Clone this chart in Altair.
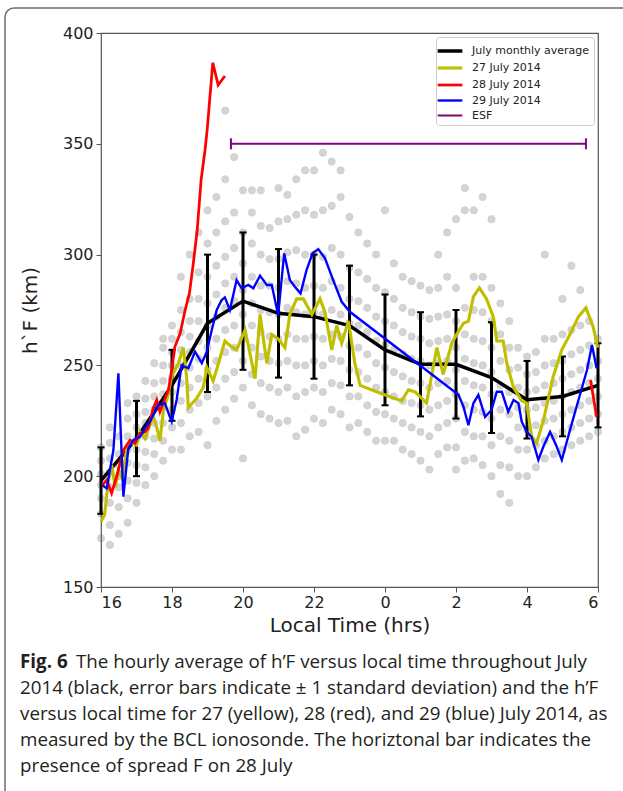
import altair as alt
import pandas as pd

# ---------------- data ----------------
hours = [16, 17, 18, 19, 20, 21, 22, 23, 24, 25, 26, 27, 28, 29, 30]
avg_hF = [198, 217, 241, 269, 279, 273.5, 272, 268, 257, 250.5, 250.5, 244.5, 234.5, 236, 241]
avg_sd = [15, 17, 16, 31, 31, 29, 28, 27, 25, 23.5, 24.5, 25, 17.5, 18, 19]

jul27_t = [16.0, 16.1, 16.2, 16.3, 16.4, 16.5, 16.6, 16.72, 16.85, 17.0,
           17.1, 17.24, 17.35, 17.47, 17.57, 17.66, 17.76, 17.88, 17.99, 18.18,
           18.32, 18.41, 18.46, 18.69, 18.88, 18.98, 19.16, 19.31, 19.49, 19.63,
           19.82, 20.06, 20.34, 20.48, 20.67, 20.81, 20.99, 21.18, 21.32, 21.51,
           21.70, 21.94, 22.17, 22.31, 22.50, 22.64, 22.78, 22.97, 23.15, 23.30,
           23.95, 24.47, 24.66, 24.85, 25.17, 25.46, 25.64, 25.88, 26.02, 26.21,
           26.35, 26.49, 26.66, 26.86, 27.05, 27.15, 27.33, 27.43, 27.62, 27.85,
           27.99, 28.13, 28.27, 28.46, 28.74, 28.98, 29.21, 29.45, 29.66, 29.87,
           29.99]
jul27_v = [179.5, 182.5, 197, 205, 195, 203, 199, 212, 215, 214,
           220, 217, 222, 227, 222, 216, 230, 236, 245, 251,
           258, 245, 231, 235, 240, 249, 243, 251, 261, 259,
           257, 266, 244, 273, 251, 264, 262, 258, 273, 280,
           280, 273, 280, 274, 257, 268, 260, 270, 251, 241,
           237, 234, 239, 238, 233, 258, 246, 260, 264, 269,
           270, 281, 285, 280, 272, 261, 261, 251, 240, 234,
           233, 218, 215, 225, 245, 257, 264, 272, 276, 267,
           258]

jul28_t = [16.04, 16.16, 16.30, 16.44, 16.63, 16.82, 16.96, 17.10, 17.24, 17.33,
           17.47, 17.57, 17.66, 17.80, 17.90, 17.99, 18.08, 18.23, 18.37, 18.49,
           18.60, 18.71, 18.82, 18.93, 18.99, 19.15, 19.30, 19.49]
jul28_v = [196, 198.3, 192.3, 199.8, 211.8, 216.3, 214.9, 219.4, 220, 221.6,
           230.6, 234.4, 229.1, 235, 238.9, 247.9, 258.4, 264.5, 275, 282.5,
           296, 311, 333.7, 347.2, 356.2, 386.6, 376.5, 380.6]
jul28_late_t = [29.79, 29.96]
jul28_late_v = [243.4, 226.8]

jul29_t = [16.04, 16.16, 16.35, 16.49, 16.63, 16.77, 16.91, 17.10, 17.24, 17.38,
           17.52, 17.61, 17.80, 17.99, 18.13, 18.27, 18.46, 18.65, 18.84, 18.98,
           19.12, 19.26, 19.40, 19.49, 19.63, 19.82, 19.96, 20.15, 20.29, 20.48,
           20.67, 20.81, 20.99, 21.16, 21.32, 21.46, 21.62, 21.79, 21.96, 22.12,
           22.31, 22.54, 22.78, 23.01, 26.07, 26.21, 26.35, 26.49, 26.63, 26.82,
           27.00, 27.15, 27.29, 27.47, 27.62, 27.76, 27.85, 27.99, 28.13, 28.32,
           28.46, 28.65, 28.82, 28.98, 29.21, 29.45, 29.69, 29.83, 29.96]
jul29_v = [196, 194.5, 211.8, 246.4, 190.8, 212.6, 216.3, 217.8, 221.6, 224.6,
           229.1, 232.1, 232.9, 224.6, 234.4, 250, 248.7, 256.2, 251, 256.2,
           266, 275, 279.5, 280.7, 275, 288.5, 284.8, 286.3, 284.8, 290.5,
           286.3, 286.3, 272.7, 300.6, 288.5, 285.5, 282.5, 293, 300.6, 302.5,
           298.3, 288.5, 278.7, 274.2, 236.7, 231.4, 223, 232.9, 236.7, 226.8,
           229.9, 238.1, 238.1, 229.1, 234.4, 232.9, 224.6, 220, 217.8, 207.3,
           213.3, 220, 214, 207.3, 220.8, 234.4, 247.9, 259.2, 248.7]

esf_start, esf_end, esf_level = 19.66, 29.66, 350

scatter_times = [16.00, 16.25, 16.50, 16.75, 17.00, 17.25, 17.50, 17.75, 18.00, 18.25,
                 18.50, 18.75, 19.00, 19.25, 19.50, 19.75, 20.00, 20.25, 20.50, 20.75,
                 21.00, 21.25, 21.50, 21.75, 22.00, 22.25, 22.50, 22.75, 23.00, 23.25,
                 23.50, 23.75, 24.00, 24.25, 24.50, 24.75, 25.00, 25.25, 25.50, 25.75,
                 26.00, 26.25, 26.50, 26.75, 27.00, 27.25, 27.50, 27.75, 28.00, 28.25,
                 28.50, 28.75, 29.00, 29.25, 29.50, 29.75, 30.00]
scatter_values = [
    [172, 183, 190, 196, 201, 207, 213],
    [169, 178, 188, 195, 202, 208, 215, 222],
    [174, 186, 195, 200, 205, 210, 218],
    [179, 190, 198, 206, 212, 218, 226, 233],
    [188, 197, 205, 212, 217, 222, 228, 236],
    [196, 204, 211, 218, 224, 229, 235, 243],
    [200, 210, 217, 224, 230, 236, 242, 251],
    [207, 216, 224, 231, 237, 243, 250, 258, 262],
    [212, 222, 230, 238, 244, 250, 256, 262, 268],
    [212, 224, 234, 242, 250, 257, 265, 275, 290],
    [218, 230, 240, 249, 256, 263, 270, 280, 300],
    [220, 233, 244, 253, 261, 270, 280, 292, 310],
    [214, 236, 248, 258, 268, 278, 290, 305, 320],
    [225, 240, 252, 262, 272, 282, 295, 310, 326],
    [230, 244, 256, 266, 276, 287, 299, 315, 334, 365],
    [235, 247, 258, 268, 279, 290, 303, 319, 344],
    [208, 240, 252, 262, 273, 284, 296, 310, 329],
    [232, 246, 258, 268, 278, 290, 305, 319, 329],
    [228, 242, 254, 265, 275, 286, 300, 313, 329],
    [226, 240, 252, 263, 274, 286, 298, 312],
    [224, 238, 251, 262, 273, 285, 298, 315, 330],
    [225, 240, 252, 264, 276, 288, 301, 316, 327],
    [218, 236, 250, 262, 274, 287, 302, 318, 334],
    [221, 238, 250, 262, 273, 285, 300, 320, 338],
    [226, 240, 252, 263, 274, 286, 300, 318, 338],
    [224, 238, 250, 262, 273, 285, 299, 320, 346],
    [230, 242, 253, 264, 275, 288, 303, 322, 342],
    [228, 241, 252, 263, 273, 285, 300, 326, 338],
    [222, 236, 248, 259, 269, 280, 294, 317],
    [224, 236, 247, 258, 268, 279, 292, 310],
    [220, 232, 244, 255, 265, 276, 289, 305],
    [216, 229, 240, 251, 261, 272, 285, 300],
    [216, 228, 238, 249, 259, 270, 283, 320],
    [216, 226, 236, 247, 257, 268, 280, 296],
    [212, 224, 234, 245, 255, 265, 276, 290],
    [210, 222, 233, 243, 253, 263, 274, 288],
    [207, 220, 232, 242, 252, 262, 272, 286],
    [203, 218, 230, 240, 250, 260, 271, 284],
    [210, 222, 232, 242, 251, 261, 272, 285, 300],
    [213, 224, 234, 243, 252, 262, 273, 290, 310],
    [203, 213, 226, 237, 248, 258, 270, 285, 316],
    [207, 220, 232, 243, 253, 264, 276, 320, 330],
    [208, 218, 230, 241, 251, 262, 275, 290, 320],
    [205, 218, 229, 240, 250, 261, 274, 290, 326],
    [200, 214, 226, 237, 247, 258, 270, 285, 316],
    [192, 205, 218, 230, 241, 252, 264, 278],
    [188, 204, 216, 228, 238, 248, 258, 270],
    [200, 212, 222, 231, 240, 249, 258],
    [200, 212, 221, 230, 238, 246, 254],
    [204, 214, 223, 231, 239, 247, 256],
    [208, 216, 225, 233, 241, 250, 262, 300],
    [210, 218, 226, 234, 242, 251, 262],
    [212, 220, 228, 236, 244, 252, 264, 280],
    [214, 222, 230, 238, 246, 255, 266, 295],
    [216, 224, 232, 240, 248, 257, 268, 284],
    [218, 226, 234, 242, 250, 259, 270],
    [220, 228, 236, 244, 252, 262],
]

series_names = ["July monthly average", "27 July 2014", "28 July 2014", "29 July 2014", "ESF"]
series_colors = ["#000000", "#bfbf00", "#ff0000", "#0000ff", "#800080"]
series_widths = [3.5, 2, 3, 2, 2]

x_ticks = [16, 18, 20, 22, 24, 26, 28, 30]
y_ticks = [150, 200, 250, 300, 350, 400]

caption_bold = "Fig. 6"
caption_lines = [
    "The hourly average of h\u2019F versus local time throughout July",
    "2014 (black, error bars indicate \u00b1 1 standard deviation) and the h\u2019F",
    "versus local time for 27 (yellow), 28 (red), and 29 (blue) July 2014, as",
    "measured by the BCL ionosonde. The horiztonal bar indicates the",
    "presence of spread F on 28 July",
]

# ---------------- tables ----------------
assert len(jul27_t) == len(jul27_v)
assert len(jul28_t) == len(jul28_v)
assert len(jul29_t) == len(jul29_v)
assert len(scatter_times) == len(scatter_values)

def series_df(ts, vs, name, seg=0):
    return pd.DataFrame({"t": ts, "v": vs, "series": name, "seg": seg})

avg_df = series_df(hours, avg_hF, series_names[0])
y27_df = series_df(jul27_t, jul27_v, series_names[1])
r28_df = pd.concat([series_df(jul28_t, jul28_v, series_names[2], 0),
                    series_df(jul28_late_t, jul28_late_v, series_names[2], 1)])
b29_df = series_df(jul29_t, jul29_v, series_names[3])
err_df = pd.DataFrame({"t": hours,
                       "lo": [m - s for m, s in zip(avg_hF, avg_sd)],
                       "hi": [m + s for m, s in zip(avg_hF, avg_sd)]})
cap_df = pd.concat([pd.DataFrame({"t": err_df.t, "v": err_df.lo}),
                    pd.DataFrame({"t": err_df.t, "v": err_df.hi})])
scat_df = pd.DataFrame([{"t": t, "v": v} for t, vals in zip(scatter_times, scatter_values) for v in vals])
esf_df = pd.DataFrame({"t": [esf_start], "t2": [esf_end], "v": [esf_level], "series": [series_names[4]]})
esf_cap_df = pd.DataFrame({"t": [esf_start, esf_end], "v": [esf_level, esf_level]})

# ---------------- encodings ----------------
FONT = "DejaVu Sans"
xs = alt.Scale(domain=[16, 30], nice=False, zero=False)
ys = alt.Scale(domain=[150, 400], nice=False, zero=False)
xaxis = alt.Axis(values=x_ticks, labelExpr="datum.value >= 24 ? datum.value - 24 : datum.value",
                 title="Local Time (hrs)", grid=False, domain=False, tickSize=5,
                 tickColor="#555555", labelFont=FONT, labelFontSize=16, labelColor="#222222",
                 labelPadding=2, titleFont=FONT, titleFontSize=20, titleFontWeight="normal",
                 titleColor="#222222", titlePadding=5)
yaxis = alt.Axis(values=y_ticks, title="h`F (km)", grid=False, domain=False, tickSize=5,
                 tickColor="#555555", labelFont=FONT, labelFontSize=16, labelColor="#222222",
                 labelPadding=3, titleFont=FONT, titleFontSize=20, titleFontWeight="normal",
                 titleColor="#222222", titlePadding=22)
X = alt.X("t:Q", scale=xs, axis=xaxis)
Y = alt.Y("v:Q", scale=ys, axis=yaxis)

legend = alt.Legend(title=None, orient="none", legendX=335, legendY=4,
                    symbolType="M-1.5,0H1.5", symbolSize=270, labelFont=FONT,
                    labelFontSize=11, labelColor="#222222", fillColor="white",
                    strokeColor="#cccccc", cornerRadius=3, padding=4, rowPadding=0,
                    labelOffset=12)
color_scale = alt.Scale(domain=series_names, range=series_colors)
width_scale = alt.Scale(domain=series_names, range=series_widths)
C = alt.Color("series:N", scale=color_scale, legend=legend)
W = alt.StrokeWidth("series:N", scale=width_scale, legend=legend)

# ---------------- layers ----------------
frame = alt.Chart(pd.DataFrame({"k": [0]})).mark_rect(
    fillOpacity=0, stroke="#6d6d6d", strokeWidth=1.5, cornerRadius=9
).encode(x=alt.value(-96), x2=alt.value(545), y=alt.value(-25), y2=alt.value(790))

scatter = alt.Chart(scat_df).mark_circle(
    size=52, color="#757575", opacity=0.3, stroke="#5a5a5a", strokeWidth=0.8
).encode(x=X, y=Y)

errbars = alt.Chart(err_df).mark_rule(color="black", strokeWidth=3).encode(
    x=X, y=alt.Y("lo:Q", scale=ys, axis=yaxis), y2="hi:Q")
errcaps = alt.Chart(cap_df).mark_tick(color="black", orient="horizontal", size=7,
                                      thickness=2, opacity=1).encode(x=X, y=Y)

def line_layer(df):
    return alt.Chart(df).mark_line().encode(x=X, y=Y, color=C, strokeWidth=W, detail="seg:N")

esf = alt.Chart(esf_df).mark_rule().encode(
    x=X, x2="t2:Q", y=Y, color=C, strokeWidth=W)
esf_caps = alt.Chart(esf_cap_df).mark_tick(color="#800080", orient="vertical", size=11,
                                           thickness=2, opacity=1).encode(x=X, y=Y)

layers = [frame, scatter, line_layer(avg_df), errbars, errcaps,
          line_layer(y27_df), line_layer(r28_df), line_layer(b29_df), esf, esf_caps]

cap_font = "Open Sans"
cap_size = 18.8
cap_x = -81
cap_y0 = 629
cap_dy = 26
layers.append(alt.Chart(pd.DataFrame({"s": [caption_bold]})).mark_text(
    align="left", baseline="middle", font=cap_font, fontSize=cap_size, fontWeight="bold",
    color="#231f20").encode(x=alt.value(cap_x), y=alt.value(cap_y0), text="s:N"))
for i, line in enumerate(caption_lines):
    layers.append(alt.Chart(pd.DataFrame({"s": [line]})).mark_text(
        align="left", baseline="middle", font=cap_font, fontSize=cap_size,
        color="#231f20").encode(x=alt.value(cap_x + (56 if i == 0 else 0)),
                                y=alt.value(cap_y0 + i * cap_dy), text="s:N"))

chart = alt.layer(*layers).properties(
    width=497, height=554,
    autosize=alt.AutoSizeParams(type="none"),
    padding={"left": 101, "top": 33, "right": 25, "bottom": 204},
    background="white",
).configure_view(stroke="#555555", strokeWidth=1.2)

chart.save("out.html", embed_options={"renderer": "svg", "actions": False})
